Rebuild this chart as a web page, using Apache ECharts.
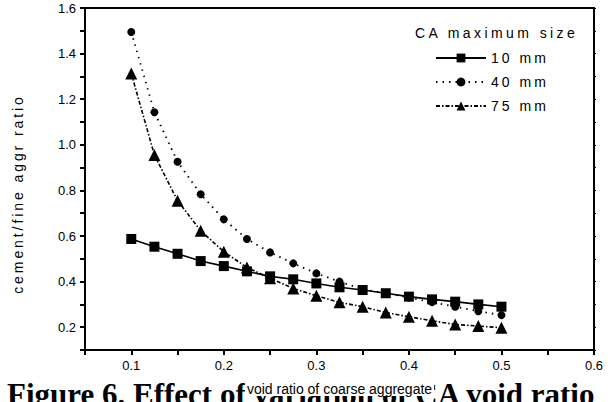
<!DOCTYPE html>
<html>
<head>
<meta charset="utf-8">
<script src="https://cdn.jsdelivr.net/npm/echarts@6/dist/echarts.min.js"></script>
<style>
html,body{margin:0;padding:0;background:#fff;}
#c{width:613px;height:402px;}
</style>
</head>
<body>
<div id="c"></div>
<script>
var voidRatio = [0.1,0.125,0.15,0.175,0.2,0.225,0.25,0.275,0.3,0.325,0.35,0.375,0.4,0.425,0.45,0.475,0.5];
var ca10 = [0.587,0.553,0.522,0.49,0.468,0.445,0.423,0.41,0.392,0.375,0.363,0.349,0.334,0.322,0.312,0.30,0.29];
var ca40 = [1.495,1.143,0.926,0.783,0.673,0.587,0.528,0.48,0.436,0.40,0.366,0.35,0.33,0.31,0.29,0.27,0.253];
var ca75 = [1.313,0.955,0.755,0.623,0.531,0.462,0.415,0.37,0.338,0.309,0.29,0.264,0.246,0.228,0.212,0.205,0.198];
var seriesNames = ['10 mm','40 mm','75 mm'];
var legendTitle = 'CA maximum size';
var xName = 'void ratio of coarse aggregate';
var yName = 'cement/fine aggr ratio';
var figTitle = 'Figure 6. Effect of variation of CA void ratio';

function pairs(ys){ return voidRatio.map(function(x,i){ return [x, ys[i]]; }); }

var chart = echarts.init(document.getElementById('c'), null, {renderer: 'svg'});
var font = 'Liberation Sans, Arial, sans-serif';
chart.setOption({
  animation: false,
  backgroundColor: '#fff',
  grid: {left: 85, right: 19, top: 8, bottom: 52},
  title: {
    text: figTitle, left: 2, top: 374, z: 0,
    textStyle: {fontFamily: 'Liberation Serif, Times New Roman, serif', fontWeight: 'bold', fontSize: 31, color: '#000'}
  },
  graphic: [{
    type: 'text', left: 415, top: 26, z: 10,
    style: {text: legendTitle, font: '14px Liberation Sans, Arial, sans-serif', fill: '#000'}
  }],
  legend: {
    orient: 'vertical', left: 430, top: 46, itemWidth: 50, itemHeight: 11, itemGap: 10,
    textStyle: {fontFamily: font, fontSize: 14, color: '#000'},
    data: seriesNames
  },
  xAxis: [{
    type: 'value', min: 0.05, max: 0.6, interval: 0.05, z: 10,
    name: xName, nameLocation: 'middle', nameGap: 32,
    nameTextStyle: {fontFamily: font, fontSize: 14, color: '#000', backgroundColor: '#fff', padding: [0,2,0,2]},
    axisLine: {show: true, onZero: false, lineStyle: {color: '#000', width: 2}},
    axisTick: {show: true, inside: false, length: 5, lineStyle: {color: '#000', width: 2}},
    axisLabel: {fontFamily: font, fontSize: 13, color: '#000', margin: 9,
      formatter: function(v){ var k = Math.round(v*20); return k % 2 === 0 ? (k/20).toFixed(1) : ''; }},
    splitLine: {show: false}
  },{
    type: 'value', position: 'top', min: 0.05, max: 0.6,
    axisLine: {show: true, onZero: false, lineStyle: {color: '#000', width: 2}},
    axisTick: {show: false}, axisLabel: {show: false}, splitLine: {show: false}
  }],
  yAxis: [{
    type: 'value', min: 0.1, max: 1.6, interval: 0.1,
    name: yName, nameLocation: 'middle', nameGap: 60, nameRotate: 90,
    nameTextStyle: {fontFamily: font, fontSize: 14, color: '#000'},
    axisLine: {show: true, onZero: false, lineStyle: {color: '#000', width: 2}},
    axisTick: {show: true, inside: false, length: 5, lineStyle: {color: '#000', width: 2}},
    axisLabel: {fontFamily: font, fontSize: 13, color: '#000', margin: 9,
      formatter: function(v){ var k = Math.round(v*10); return k % 2 === 0 ? (k/10).toFixed(1) : ''; }},
    splitLine: {show: false}
  },{
    type: 'value', position: 'right', min: 0.1, max: 1.6, interval: 0.1,
    axisLine: {show: true, onZero: false, lineStyle: {color: '#000', width: 2}},
    axisTick: {show: true, inside: false, length: 2, lineStyle: {color: '#000', width: 1}},
    axisLabel: {show: false}, splitLine: {show: false}
  }],
  series: [{
    name: seriesNames[0], type: 'line', data: pairs(ca10),
    symbol: 'rect', symbolSize: 10, itemStyle: {color: '#000'},
    lineStyle: {color: '#000', width: 1.6, type: 'solid'}, z: 5
  },{
    name: seriesNames[1], type: 'line', data: pairs(ca40),
    symbol: 'circle', symbolSize: 8, itemStyle: {color: '#000'},
    lineStyle: {color: '#000', width: 1.8, type: [1.5,5]}, z: 4
  },{
    name: seriesNames[2], type: 'line', data: pairs(ca75),
    symbol: 'triangle', symbolSize: 12, itemStyle: {color: '#000'},
    lineStyle: {color: '#000', width: 1.6, type: [4,2,1.5,2]}, z: 3
  }]
});

// target visual lengths (px); spacing is derived from them
var spaced = {};
spaced[legendTitle] = {len: 160};
spaced[yName] = {len: 197, cx: 18, cy: 194};
seriesNames.forEach(function(n){ spaced[n] = {len: 55}; });
var done = false;
function applySpacing(){
  if (done) return;
  var texts = document.querySelectorAll('#c svg text');
  for (var i = 0; i < texts.length; i++) {
    var el = texts[i];
    var t = el.textContent;
    var cfg = spaced[t];
    if (!cfg) continue;
    var r0 = el.getBoundingClientRect();
    var vertical = r0.height > r0.width;
    var L0 = vertical ? r0.height : r0.width;
    var s = (cfg.len - L0) / (t.length - 1);
    if (s > 0) el.style.letterSpacing = s.toFixed(2) + 'px';
    if (cfg.cx !== undefined) {
      var r1 = el.getBoundingClientRect();
      var host = document.getElementById('c').getBoundingClientRect();
      var dx = cfg.cx - (r1.left + r1.width / 2 - host.left);
      var dy = cfg.cy - (r1.top + r1.height / 2 - host.top);
      var tr = el.getAttribute('transform') || '';
      el.setAttribute('transform', 'translate(' + dx.toFixed(2) + ' ' + dy.toFixed(2) + ') ' + tr);
    }
  }
  done = true;
}
applySpacing();
</script>
</body>
</html>
